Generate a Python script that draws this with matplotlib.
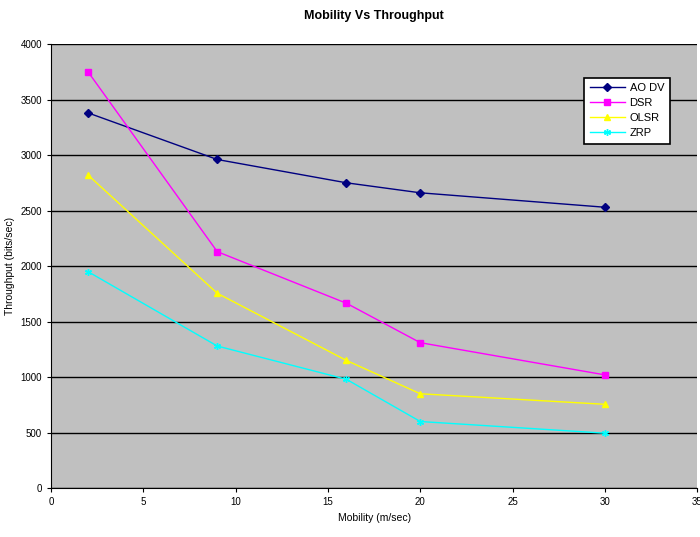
import matplotlib.pyplot as plt
from matplotlib.ticker import MultipleLocator

plt.rcParams['font.family'] = ['Liberation Sans', 'DejaVu Sans']

mobility = [2, 9, 16, 20, 30]
aodv = [3380, 2960, 2750, 2660, 2530]
dsr = [3750, 2130, 1665, 1310, 1020]
olsr = [2820, 1755, 1150, 850, 755]
zrp = [1950, 1280, 980, 600, 495]

fig = plt.figure(figsize=(7, 5.37), dpi=100)
ax = fig.add_axes([0.073, 0.091, 0.923, 0.827])
ax.set_facecolor('#c0c0c0')

ax.plot(mobility, aodv, color='#000080', marker='D', markersize=4, lw=1, label='AO DV')
ax.plot(mobility, dsr, color='#ff00ff', marker='s', markersize=4.5, lw=1, label='DSR')
ax.plot(mobility, olsr, color='#ffff00', marker='^', markersize=5, lw=1, label='OLSR')
ax.plot(mobility, zrp, color='#00ffff', marker=(6, 2, 0), markersize=5, lw=1, label='ZRP')

ax.set_xlim(0, 35)
ax.set_ylim(0, 4000)
ax.xaxis.set_major_locator(MultipleLocator(5))
ax.yaxis.set_major_locator(MultipleLocator(500))
ax.yaxis.grid(True, color='black', lw=1)
ax.set_axisbelow(True)
for s in ['top', 'right']:
    ax.spines[s].set_visible(False)
ax.tick_params(labelsize=7, length=3, direction='out')

ax.set_title('Mobility Vs Throughput', fontsize=9, fontweight='bold', pad=18)
ax.set_xlabel('Mobility (m/sec)', fontsize=7.5)
ax.set_ylabel('Throughput (bits/sec)', fontsize=7.5)

leg = ax.legend(loc='upper right', bbox_to_anchor=(0.966, 0.937), fontsize=8,
                fancybox=False, edgecolor='black', framealpha=1,
                handlelength=3.2, borderpad=0.5, labelspacing=0.45,
                handletextpad=0.4)
leg.get_frame().set_linewidth(1.2)

fig.savefig('out.png')
